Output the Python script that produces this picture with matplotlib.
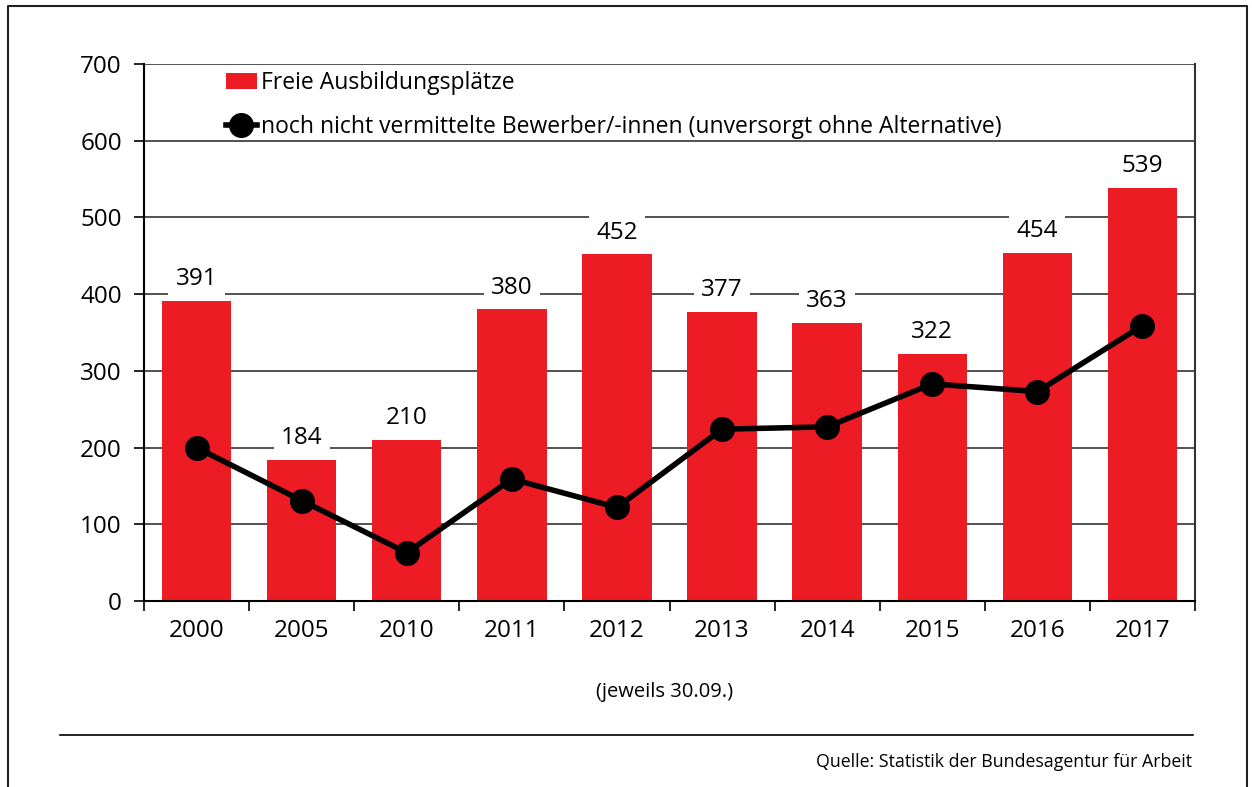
import matplotlib.pyplot as plt
import numpy as np

# ==== Data ====
years = ['2000', '2005', '2010', '2011', '2012', '2013', '2014', '2015', '2016', '2017']
freie_plaetze = [391, 184, 210, 380, 452, 377, 363, 322, 454, 539]
unversorgt = [200, 131, 63, 159, 122, 224, 227, 283, 273, 359]

bar_label = 'Freie Ausbildungsplätze'
line_label = 'noch nicht vermittelte Bewerber/-innen (unversorgt ohne Alternative)'

plt.rcParams['font.family'] = ['Open Sans', 'DejaVu Sans']

fig = plt.figure(figsize=(12.52, 7.87), dpi=100)
ax = fig.add_axes([0.115, 0.2363, 0.8395, 0.6824])

x = np.arange(len(years))
bars = ax.bar(x, freie_plaetze, width=0.66, color='#ed1c24', label=bar_label, zorder=2)
line, = ax.plot(x, unversorgt, color='black', lw=4, marker='o', markersize=17,
                label=line_label, zorder=3)

for xi, v in zip(x, freie_plaetze):
    ax.annotate(str(v), (xi, v), xytext=(0, 7), textcoords='offset points',
                ha='center', va='bottom', fontsize=17.5,
                bbox=dict(boxstyle='square,pad=0.3', fc='white', ec='none'), zorder=4)

ax.set_xlim(-0.5, len(years) - 0.5)
ax.set_ylim(0, 700)
ax.set_yticks(range(0, 701, 100))
ax.yaxis.grid(True, color='#333333', lw=1.2, zorder=0)
ax.set_axisbelow(True)

ax.set_xticks(x)
ax.set_xticklabels(years, fontsize=17.5)
ax.set_xticks(np.arange(-0.5, len(years)), minor=True)
ax.tick_params(axis='x', which='major', length=0, pad=13)
ax.tick_params(axis='x', which='minor', length=7, width=1.2, direction='out')
ax.tick_params(axis='y', length=7, width=1.2, labelsize=17.5, pad=9)

for s in ['left', 'bottom', 'right']:
    ax.spines[s].set_linewidth(1.5)
ax.spines['top'].set_visible(False)
ax.spines['right'].set_color('#333333')

ax.legend([bars, line], [bar_label, line_label], loc='upper left',
          bbox_to_anchor=(0.058, 1.025), frameon=False, fontsize=16.5,
          handlelength=1.35, handletextpad=0.2, labelspacing=0.85)

fig.text(0.531, 0.121, '(jeweils 30.09.)', ha='center', va='center', fontsize=14.5)
fig.add_artist(plt.Line2D([0.048, 0.953], [0.066, 0.066], color='black', lw=1.2))
fig.text(0.952, 0.032, 'Quelle: Statistik der Bundesagentur für Arbeit', ha='right',
         va='center', fontsize=12.8)

# Outer frame (left, top, right)
fig.add_artist(plt.Line2D([0.0065, 0.0065, 0.996, 0.996], [0.0, 0.993, 0.993, 0.0],
                          color='#222222', lw=1.5))

fig.savefig('out.png', dpi=100)
